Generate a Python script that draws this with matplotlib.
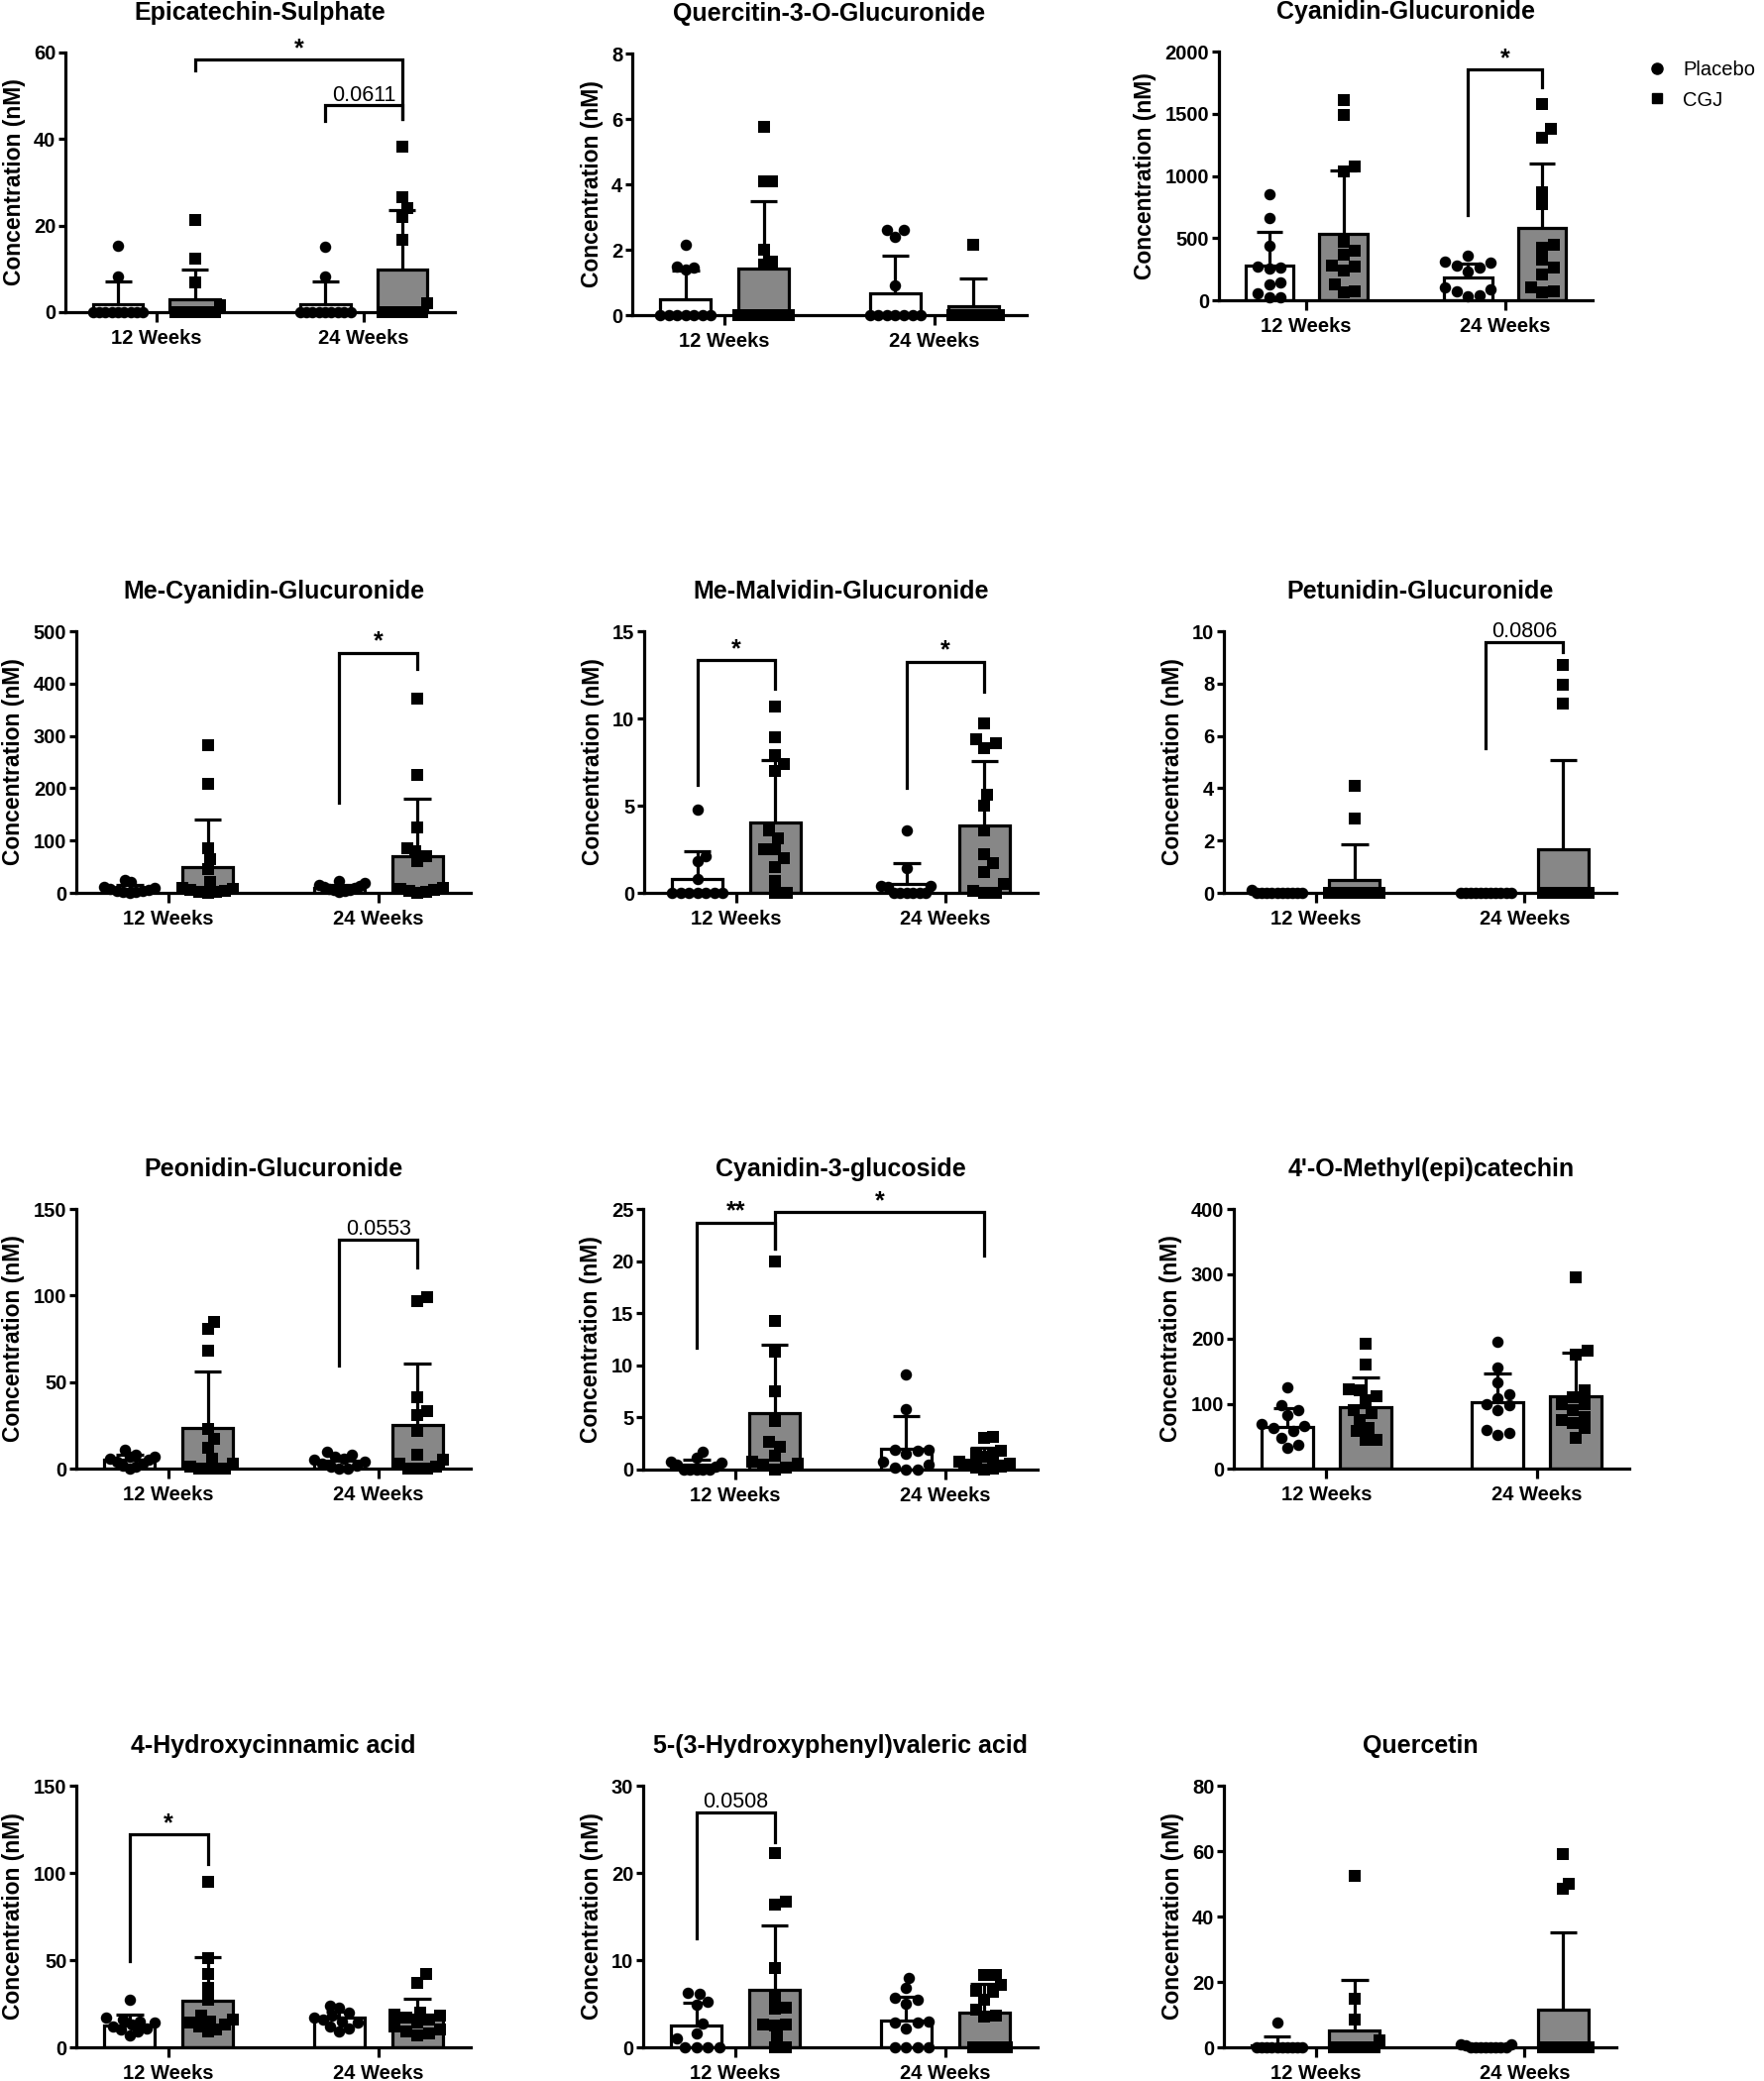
import numpy as np
import matplotlib.pyplot as plt
from matplotlib.lines import Line2D

plt.rcParams['font.family'] = ['Liberation Sans', 'DejaVu Sans']

W, H = 1781, 2100

titles = ["Epicatechin-Sulphate", "Quercitin-3-O-Glucuronide", "Cyanidin-Glucuronide",
          "Me-Cyanidin-Glucuronide", "Me-Malvidin-Glucuronide", "Petunidin-Glucuronide",
          "Peonidin-Glucuronide", "Cyanidin-3-glucoside", "4'-O-Methyl(epi)catechin",
          "4-Hydroxycinnamic acid", "5-(3-Hydroxyphenyl)valeric acid", "Quercetin"]
time_labels = ["12 Weeks", "24 Weeks"]
group_names = ["Placebo", "CGJ"]
y_max = [60, 8, 2000, 500, 15, 10, 150, 25, 400, 150, 30, 80]
y_step = [20, 2, 500, 100, 5, 2, 50, 5, 100, 50, 10, 20]

# points per bar: placebo 12 wk, CGJ 12 wk, placebo 24 wk, CGJ 24 wk
epicatechin_pts = [[15.3, 8.2] + [0] * 9,
                   [21.2, 12.4, 6.9, 1.5] + [0] * 9,
                   [15.1, 8.2] + [0] * 9,
                   [38.3, 26.5, 24.0, 22.0, 16.8, 2.0] + [0] * 7]
epicatechin_mean = [1.9, 2.9, 1.9, 9.8]
epicatechin_sd = [5.2, 6.9, 5.2, 13.8]

quercitin_pts = [[2.15, 1.5, 1.45, 1.4] + [0] * 7,
                 [5.75, 4.1, 4.1, 2.0, 1.65, 1.55] + [0] * 7,
                 [2.6, 2.6, 2.4, 0.9] + [0] * 7,
                 [2.15] + [0] * 12]
quercitin_mean = [0.48, 1.42, 0.68, 0.28]
quercitin_sd = [0.88, 2.05, 1.14, 0.84]

cyan_gluc_pts = [[850, 660, 440, 270, 265, 255, 140, 130, 55, 25, 25],
                 [1610, 1490, 1075, 1035, 470, 400, 370, 280, 270, 240, 130, 75, 60],
                 [360, 310, 300, 280, 260, 230, 100, 90, 70, 40, 30],
                 [1580, 1380, 1310, 870, 770, 450, 420, 330, 260, 210, 100, 70, 60]]
cyan_gluc_mean = [282, 537, 181, 584]
cyan_gluc_sd = [270, 510, 115, 513]

me_cyan_pts = [[25, 20, 12, 10, 8, 6, 4, 3, 2, 1, 0],
               [283, 208, 86, 65, 45, 20, 10, 8, 5, 3, 2, 1, 0],
               [22, 18, 16, 14, 12, 10, 8, 6, 5, 3, 1],
               [372, 225, 125, 85, 80, 70, 60, 10, 8, 5, 3, 1, 0]]
me_cyan_mean = [8, 50, 10, 71]
me_cyan_sd = [8, 90, 6, 109]

me_malv_pts = [[4.8, 2.1, 1.8, 0.8] + [0] * 7,
               [10.7, 8.9, 7.9, 7.4, 7.0, 3.6, 3.1, 2.5, 2.5, 2.0, 1.5, 0.7, 0, 0],
               [3.6, 1.4, 0.4, 0.4, 0.35] + [0] * 6,
               [9.7, 8.8, 8.6, 8.3, 5.6, 5.0, 3.6, 2.2, 1.7, 1.2, 0.5, 0.1, 0, 0]]
me_malv_mean = [0.81, 4.06, 0.53, 3.88]
me_malv_sd = [1.59, 3.56, 1.17, 3.68]

petun_pts = [[0.1] + [0] * 10,
             [4.1, 2.85] + [0] * 11,
             [0] * 11,
             [8.7, 7.95, 7.25] + [0] * 10]
petun_mean = [0.01, 0.48, 0.0, 1.65]
petun_sd = [0.03, 1.39, 0.0, 3.43]

peon_pts = [[11, 8, 7, 7, 6, 5, 4, 3, 2, 1, 0],
            [85, 81, 68, 23, 17, 12, 6, 3, 1, 0, 0, 0, 0],
            [10, 8, 7, 6, 5, 4, 3, 2, 1, 0, 0],
            [99, 97, 41, 33, 31, 22, 8, 5, 3, 1, 0, 0, 0]]
peon_mean = [5.1, 23.6, 4.6, 25.2]
peon_sd = [3.0, 32.4, 2.6, 35.6]

c3g_pts = [[1.7, 1.1, 0.8, 0.7, 0.5, 0.3, 0, 0, 0, 0, 0],
           [20.0, 14.3, 11.3, 7.5, 4.7, 2.7, 2.2, 1.3, 0.8, 0.6, 0.5, 0.2, 0],
           [9.1, 5.8, 1.9, 1.9, 1.8, 1.5, 0.8, 0.5, 0.2, 0, 0],
           [3.1, 3.0, 1.8, 1.5, 1.4, 1.2, 0.8, 0.6, 0.5, 0.3, 0.2, 0.1, 0]]
c3g_mean = [0.45, 5.4, 2.0, 0.9]
c3g_sd = [0.5, 6.6, 3.1, 1.16]

methyl_pts = [[125, 98, 90, 82, 68, 66, 62, 58, 48, 37, 32],
              [192, 160, 122, 120, 112, 105, 90, 85, 75, 62, 58, 45, 45],
              [195, 155, 133, 115, 108, 100, 98, 90, 60, 55, 52],
              [295, 182, 175, 120, 110, 100, 100, 90, 80, 75, 70, 62, 48]]
methyl_mean = [64.5, 95, 101.6, 111.3]
methyl_sd = [28, 45.8, 45.3, 67.6]

hcinn_pts = [[27, 17, 16, 15, 14, 13, 12, 11, 10, 9, 7],
             [95, 51, 42, 34, 27, 18, 16, 15, 14, 13, 12, 10, 9],
             [24, 23, 20, 18, 17, 16, 15, 14, 12, 11, 9],
             [42, 37, 20, 19, 18, 17, 16, 14, 12, 10, 9, 8, 7]]
hcinn_mean = [12.7, 26.7, 17.0, 18.75]
hcinn_sd = [6.05, 24.8, 3.3, 9.05]

valeric_pts = [[6.2, 6.1, 5.2, 4.9, 2.7, 1.6, 1.0, 0, 0, 0, 0],
               [22.3, 16.7, 16.4, 9.1, 5.8, 4.5, 4.4, 2.6, 2.6, 2.5, 1.2, 0, 0],
               [8.0, 6.8, 5.7, 5.4, 5.0, 2.9, 2.8, 2.8, 2.2, 0, 0, 0, 0],
               [8.3, 8.3, 7.2, 6.5, 6.4, 5.5, 4.3, 3.6, 3.5, 0, 0, 0, 0]]
valeric_mean = [2.46, 6.6, 3.03, 3.94]
valeric_sd = [2.64, 7.4, 2.73, 3.33]

quercetin_pts = [[7.6] + [0] * 10,
                 [52.5, 15.0, 8.5, 2.0] + [0] * 9,
                 [1.0, 1.0, 0.5] + [0] * 8,
                 [59.0, 50.0, 48.5] + [0] * 10]
quercetin_mean = [0.7, 5.25, 0.2, 11.5]
quercetin_sd = [2.5, 15.35, 0.4, 23.8]

all_pts = [epicatechin_pts, quercitin_pts, cyan_gluc_pts, me_cyan_pts, me_malv_pts, petun_pts,
           peon_pts, c3g_pts, methyl_pts, hcinn_pts, valeric_pts, quercetin_pts]
all_mean = [epicatechin_mean, quercitin_mean, cyan_gluc_mean, me_cyan_mean, me_malv_mean, petun_mean,
            peon_mean, c3g_mean, methyl_mean, hcinn_mean, valeric_mean, quercetin_mean]
all_sd = [epicatechin_sd, quercitin_sd, cyan_gluc_sd, me_cyan_sd, me_malv_sd, petun_sd,
          peon_sd, c3g_sd, methyl_sd, hcinn_sd, valeric_sd, quercetin_sd]

# significance brackets: bar a, bar b, bracket height, leg end a, leg end b, label
brackets = {
    0: [(1, 3, 58.3, 55.8, 44.6, "*"), (2, 3, 47.9, 44.3, 44.6, "0.0611")],
    2: [(2, 3, 1854, 685, 1716, "*")],
    3: [(2, 3, 459, 172, 428, "*")],
    4: [(0, 1, 13.35, 6.2, 11.7, "*"), (2, 3, 13.25, 6.0, 11.55, "*")],
    5: [(2, 3, 9.6, 5.52, 9.22, "0.0806")],
    6: [(2, 3, 132.5, 59.5, 116, "0.0553")],
    7: [(0, 1, 23.7, 11.7, 21.2, "**"), (1, 3, 24.7, 21.2, 20.55, "*")],
    9: [(0, 1, 122, 49.6, 105, "*")],
    10: [(0, 1, 26.97, 12.46, 23.56, "0.0508")],
}

# axes boxes in pixels: left, right, top, bottom
boxes = [(66, 459, 53, 315), (638, 1036, 54, 318), (1230, 1607, 52, 303),
         (77, 475, 637, 901), (650, 1047, 637, 901), (1235, 1631, 637, 901),
         (77, 475, 1220, 1482), (649, 1047, 1220, 1483), (1245, 1644, 1220, 1482),
         (77, 475, 1802, 2066), (649, 1047, 1802, 2066), (1235, 1631, 1802, 2066)]

GRAY = '#878787'
OFF = 0.186
BW = 0.243
CAP = 0.065
LW = 2.3
DIAM = 11.5  # marker size in px
TICK_FS = 14.5


def swarm_offsets(ax, x0, vals, half_px):
    tr = ax.transData
    ys = np.array([tr.transform((x0, v))[1] for v in vals])
    sx = tr.transform((1, 0))[0] - tr.transform((0, 0))[0]
    step = DIAM / 4.0
    cands = [0.0]
    for k in range(1, 60):
        cands += [k * step, -k * step]
    offs = np.zeros(len(vals))
    placed = []
    for i in np.argsort(ys):
        y = ys[i]
        for c in cands:
            ok = all((c - px) ** 2 + (y - py) ** 2 >= (0.95 * DIAM) ** 2 for px, py in placed)
            if ok:
                break
        placed.append((c, y))
        offs[i] = c
    m = np.abs(offs).max() if len(offs) else 0
    if m > half_px:
        offs = offs * half_px / m
    return offs / sx


fig = plt.figure(figsize=(W / 100, H / 100), dpi=100)

for p in range(12):
    L, R, T, B = boxes[p]
    ax = fig.add_axes([L / W, 1 - B / H, (R - L) / W, (B - T) / H])
    ax.set_xlim(-0.44, 1.44)
    ax.set_ylim(0, y_max[p])
    xs = [-OFF, OFF, 1 - OFF, 1 + OFF]
    fills = ['white', GRAY, 'white', GRAY]
    marks = ['o', 's', 'o', 's']
    sx = ax.transData.transform((1, 0))[0] - ax.transData.transform((0, 0))[0]
    for i in range(4):
        m, s = all_mean[p][i], all_sd[p][i]
        ax.bar(xs[i], m, width=BW, color=fills[i], edgecolor='black', linewidth=LW, zorder=2)
        ax.vlines(xs[i], m, m + s, color='black', lw=LW, zorder=3)
        ax.hlines(m + s, xs[i] - CAP, xs[i] + CAP, color='black', lw=LW, zorder=3)
        vals = np.array(all_pts[p][i], dtype=float)
        offs = swarm_offsets(ax, xs[i], vals, BW / 2 * sx)
        ax.scatter(xs[i] + offs, vals, marker=marks[i], s=(DIAM * 0.72) ** 2, color='black',
                   linewidths=0, zorder=4, clip_on=False)

    for a, b, yb, ya, yb2, lab in brackets.get(p, []):
        ax.plot([xs[a], xs[a], xs[b], xs[b]], [ya, yb, yb, yb2], color='black', lw=LW,
                clip_on=False, solid_joinstyle='miter', zorder=3)
        star = lab.startswith('*')
        ax.annotate(lab, xy=((xs[a] + xs[b]) / 2, yb), xytext=(0, 3), textcoords='offset points',
                    ha='center', va='baseline', fontsize=18 if star else 15.5,
                    fontweight='bold' if star else 'normal', annotation_clip=False)

    ax.spines['top'].set_visible(False)
    ax.spines['right'].set_visible(False)
    ax.spines['left'].set_linewidth(LW)
    ax.spines['bottom'].set_linewidth(LW)
    ax.spines['bottom'].set_zorder(5)
    ax.set_yticks(np.arange(0, y_max[p] + y_step[p] / 2, y_step[p]))
    ax.set_xticks([0, 1])
    ax.set_xticklabels(time_labels, fontsize=TICK_FS, fontweight='bold')
    for lbl in ax.get_yticklabels():
        lbl.set_fontweight('bold')
        lbl.set_fontsize(TICK_FS)
    ax.tick_params(axis='x', length=7, width=LW, pad=5)
    ax.tick_params(axis='y', length=5, width=LW, pad=2)
    ax.set_ylabel("Concentration (nM)", fontsize=16.5, fontweight='bold', labelpad=6)
    fig.text((L + R) / 2 / W, 1 - (T - 40) / H, titles[p], ha='center', va='center',
             fontsize=18, fontweight='bold')

handles = [Line2D([], [], marker='o', color='black', ls='', ms=8),
           Line2D([], [], marker='s', color='black', ls='', ms=7.5)]
fig.legend(handles, group_names, loc='center left', bbox_to_anchor=(1664 / W, 1 - 86 / H),
           frameon=False, fontsize=14.5, handlelength=0.8, handletextpad=0.9,
           labelspacing=0.55, borderpad=0, borderaxespad=0)

fig.savefig('out.png', dpi=100)
